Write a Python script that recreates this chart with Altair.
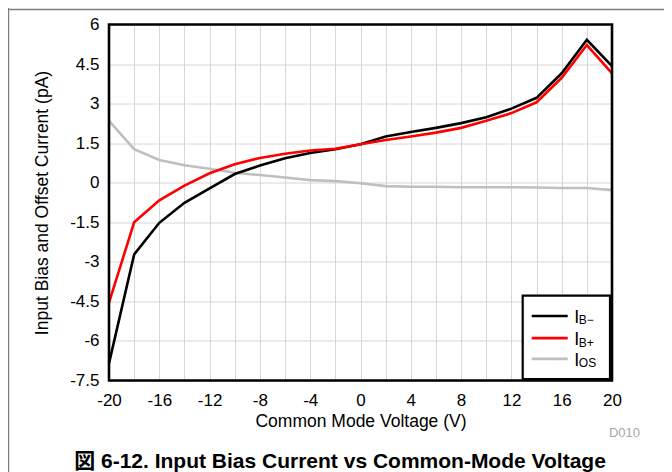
import altair as alt
import pandas as pd

# ---- data ----
volts = [-20, -18, -16, -14, -12, -10, -8, -6, -4, -2, 0, 2, 4, 6, 8, 10, 12, 14, 16, 18, 20]
ib_minus = [-6.85, -2.72, -1.52, -0.76, -0.21, 0.33, 0.65, 0.93, 1.13, 1.27, 1.46,
            1.75, 1.92, 2.08, 2.26, 2.48, 2.81, 3.22, 4.15, 5.42, 4.42]
ib_plus = [-4.55, -1.50, -0.67, -0.11, 0.36, 0.70, 0.94, 1.10, 1.22, 1.29, 1.46,
           1.62, 1.75, 1.90, 2.08, 2.35, 2.64, 3.05, 3.98, 5.22, 4.15]
i_os = [2.35, 1.27, 0.86, 0.66, 0.53, 0.38, 0.29, 0.20, 0.10, 0.06, -0.02,
        -0.13, -0.15, -0.15, -0.17, -0.17, -0.17, -0.18, -0.20, -0.20, -0.28]

x_ticks = list(range(-20, 21, 2))
y_ticks = [-7.5, -6, -4.5, -3, -1.5, 0, 1.5, 3, 4.5, 6]

legend_subs = ["B\u2212", "B+", "OS"]
legend_colors = ["#000000", "#ff0000", "#bfbfbf"]

x_title = "Common Mode Voltage (V)"
y_title = "Input Bias and Offset Current (pA)"
caption = "図 6-12. Input Bias Current vs Common-Mode Voltage"
code = "D010"

W, H = 503, 356
FONT = "Liberation Sans"

df = pd.DataFrame({"v": volts, "ibm": ib_minus, "ibp": ib_plus, "ios": i_os})

xs = alt.Scale(domain=[-20, 20], nice=False, zero=False)
ys = alt.Scale(domain=[-7.5, 6], nice=False, zero=False)

xax = alt.Axis(values=x_ticks, title=x_title,
               labelExpr="datum.value % 4 == 0 ? '' + datum.value : ''",
               grid=True, gridColor="#d6d6d6", gridWidth=1,
               ticks=False, tickSize=0, domain=False, labelFlush=False,
               labelFont=FONT, labelFontSize=17, labelColor="#000",
               labelBaseline="alphabetic", labelPadding=25,
               titleFont=FONT, titleFontSize=17.5, titleFontWeight="normal",
               titleColor="#000", titleBaseline="alphabetic",
               titleX=W / 2, titleY=46)
yax = alt.Axis(values=y_ticks, title=y_title,
               labelExpr="'' + datum.value",
               grid=True, gridColor="#d6d6d6", gridWidth=1,
               ticks=False, tickSize=0, domain=False, labelFlush=False,
               labelFont=FONT, labelFontSize=17, labelColor="#000",
               labelPadding=10,
               titleFont=FONT, titleFontSize=17.5, titleFontWeight="normal",
               titleColor="#000", titleBaseline="alphabetic",
               titleX=-62, titleY=H / 2)

base = alt.Chart(df)


def line(col, color):
    return base.mark_line(color=color, strokeWidth=2.6, clip=True).encode(
        x=alt.X("v:Q", scale=xs, axis=xax),
        y=alt.Y(f"{col}:Q", scale=ys, axis=yax))


l_os = line("ios", legend_colors[2])
l_m = line("ibm", legend_colors[0])
l_p = line("ibp", legend_colors[1])

one = alt.Chart(pd.DataFrame({"a": [0]}))

border = one.mark_rect(filled=False, stroke="#000", strokeWidth=2.6).encode(
    x=alt.value(0), x2=alt.value(W), y=alt.value(0), y2=alt.value(H))

# page frame lines
frame_h = one.mark_rule(color="#7f7f7f", strokeWidth=1.5).encode(
    x=alt.value(-101), x2=alt.value(555), y=alt.value(-15))
frame_v = one.mark_rule(color="#7f7f7f", strokeWidth=1.5).encode(
    x=alt.value(-100.5), y=alt.value(-16.5), y2=alt.value(448))

# legend
lx0, lx1, ly0, ly1 = 413.7, 501, 271.2, 354.5
leg_box = one.mark_rect(fill="#fff", stroke="#000", strokeWidth=2.2).encode(
    x=alt.value(lx0), x2=alt.value(lx1), y=alt.value(ly0), y2=alt.value(ly1))
leg_y = [291.5, 313.6, 334.4]
leg_layers = [leg_box]
for yy, sub, col in zip(leg_y, legend_subs, legend_colors):
    leg_layers.append(one.mark_rule(color=col, strokeWidth=2.6).encode(
        x=alt.value(422.7), x2=alt.value(458.7), y=alt.value(yy)))
    leg_layers.append(one.mark_text(text="I", font=FONT, fontSize=18, align="left",
                                    baseline="alphabetic", color="#000").encode(
        x=alt.value(465.3), y=alt.value(yy + 6.8)))
    leg_layers.append(one.mark_text(text=sub, font=FONT, fontSize=12, align="left",
                                    baseline="alphabetic", color="#000").encode(
        x=alt.value(469.8), y=alt.value(yy + 8.4)))

code_txt = one.mark_text(text=code, font=FONT, fontSize=13, align="right",
                         baseline="alphabetic", color="#a6a6a6").encode(
    x=alt.value(531), y=alt.value(412.2))
cap_txt = one.mark_text(text=caption, font=FONT + ", Noto Sans CJK JP", fontSize=21,
                        fontWeight="bold", align="center", baseline="alphabetic",
                        color="#000").encode(
    x=alt.value(231), y=alt.value(443.5))

chart = alt.layer(l_os, l_m, l_p, border, *leg_layers, code_txt, cap_txt,
                  frame_h, frame_v).properties(
    width=W, height=H,
    autosize=alt.AutoSizeParams(type="none"),
    padding={"left": 101, "top": 16.5, "right": 52, "bottom": 91.5},
    background="#ffffff",
).configure_view(stroke=None)

chart.save("out.html", embed_options={"renderer": "svg", "actions": False})
